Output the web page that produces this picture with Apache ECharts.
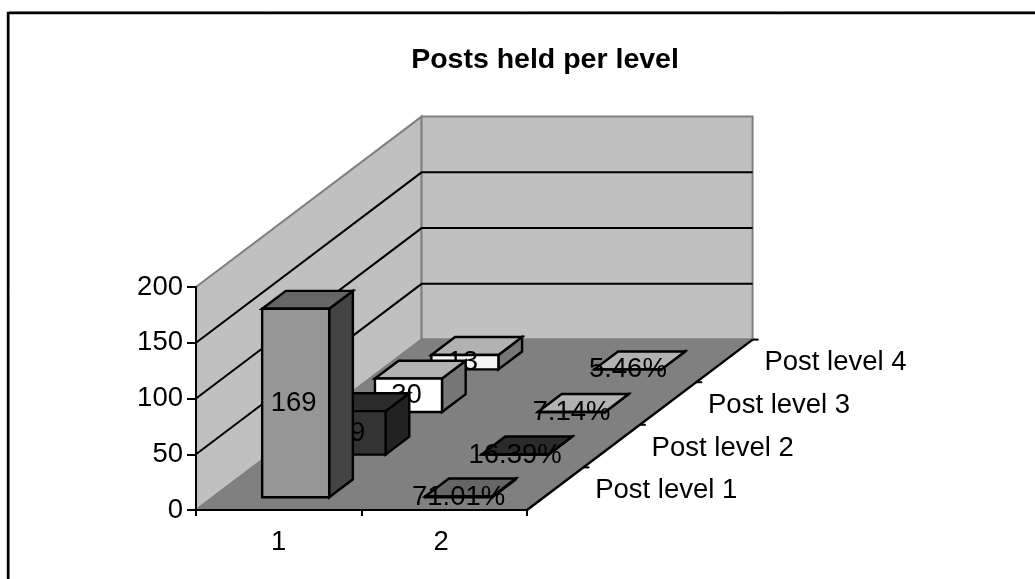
<!DOCTYPE html>
<html>
<head>
<meta charset="utf-8">
<style>
  html, body { margin: 0; background: #fff; }
  #chart { width: 1035px; height: 579px; }
</style>
<script src="https://cdn.jsdelivr.net/npm/echarts@6/dist/echarts.min.js"></script>
</head>
<body>
<div id="chart"></div>
<script>
const categories = ['1', '2'];
const levels = ['Post level 1', 'Post level 2', 'Post level 3', 'Post level 4'];
const counts = [169, 39, 30, 13];
const shares = [71.01, 16.39, 7.14, 5.46];
const yTicks = [0, 50, 100, 150, 200];

// oblique projection: how far one level moves back on screen
const stepX = 56.4;
const stepY = -42.6;
const font = 'Liberation Sans, Arial, sans-serif';
const labelSize = 27.5;

// front, top, side colours per level
const shades = [
  ['#969696', '#666666', '#444444'],
  ['#333333', '#2b2b2b', '#222222'],
  ['#ffffff', '#b2b2b2', '#777777'],
  ['#f4f4f4', '#b2b2b2', '#777777']
];

const edge = { stroke: '#000', lineWidth: 2.4, lineJoin: 'miter' };

function poly(points, fill, stroke) {
  return {
    type: 'polygon',
    shape: { points: points },
    style: stroke ? Object.assign({ fill: fill }, edge) : { fill: fill, stroke: '#808080', lineWidth: 2 }
  };
}

function back(p, d) {
  return [p[0] + stepX * d, p[1] + stepY * d];
}

// side wall, back wall, floor and their gridlines
function renderFrame(params, api) {
  const w = api.size([1, 0])[0];
  const x0 = api.coord([0, 0])[0] - w / 2;
  const x1 = x0 + w * categories.length;
  const y0 = api.coord([0, 0])[1];
  const yTop = api.coord([0, yTicks[yTicks.length - 1]])[1];
  const d = levels.length;
  const kids = [
    poly([[x0, y0], [x0, yTop], back([x0, yTop], d), back([x0, y0], d)], '#c0c0c0'),
    poly([back([x0, y0], d), back([x0, yTop], d), back([x1, yTop], d), back([x1, y0], d)], '#c0c0c0'),
    poly([[x0, y0], [x1, y0], back([x1, y0], d), back([x0, y0], d)], '#808080')
  ];
  yTicks.slice(1, -1).forEach(function (t) {
    const y = api.coord([0, t])[1];
    kids.push({
      type: 'polyline',
      shape: { points: [[x0, y], back([x0, y], d), back([x1, y], d)] },
      style: { fill: 'none', stroke: '#000', lineWidth: 2 }
    });
  });
  kids.push({
    type: 'line',
    shape: { x1: x1, y1: y0, x2: back([x1, y0], d)[0], y2: back([x1, y0], d)[1] },
    style: { stroke: '#000', lineWidth: 2.4 }
  });
  for (let i = 1; i <= d; i++) {
    const p = back([x1, y0], i);
    kids.push({
      type: 'line',
      shape: { x1: p[0], y1: p[1], x2: p[0] + 6, y2: p[1] },
      style: { stroke: '#000', lineWidth: 2 }
    });
  }
  levels.forEach(function (name, i) {
    const p = back([x1, y0], i + 0.5);
    kids.push({
      type: 'text',
      style: { x: p[0] + 40, y: p[1] + 2, text: name, fill: '#000', font: labelSize + 'px ' + font, verticalAlign: 'middle' }
    });
  });
  return { type: 'group', children: kids };
}

// one box of the 3D bar series
function renderBox(params, api) {
  const cat = api.value(0);
  const level = api.value(1);
  const val = api.value(2);
  const w = api.size([1, 0])[0];
  const barW = w * 0.405;
  const base = api.coord([cat, 0]);
  const top = api.coord([cat, val]);
  const gap = 0.3;
  const depth = 0.42;
  // the second group sits a little left of its band in the original
  const nudge = cat === 1 ? -2.5 : 0;
  const left = base[0] - barW / 2 + nudge;
  const right = base[0] + barW / 2 + nudge;
  const fb = back([left, base[1]], level + gap);
  const fr = back([right, base[1]], level + gap);
  const ft = back([left, top[1]], level + gap);
  const frt = back([right, top[1]], level + gap);
  const bt = back(ft, depth);
  const brt = back(frt, depth);
  const brb = back(fr, depth);
  const c = shades[level];
  const text = cat === 0 ? String(val) : shares[level].toFixed(2) + '%';
  return {
    type: 'group',
    children: [
      poly([frt, brt, brb, fr], c[2], true),
      poly([ft, bt, brt, frt], c[1], true),
      poly([ft, frt, fr, fb], c[0], true),
      {
        type: 'text',
        style: {
          x: (left + right) / 2 + stepX * (level + gap) + (cat === 0 ? -2 : 0),
          y: (ft[1] + fb[1]) / 2 + 0.5,
          text: text,
          fill: '#000',
          font: labelSize + 'px ' + font,
          align: 'center',
          verticalAlign: 'middle'
        }
      }
    ]
  };
}

// drawn back to front so the nearer boxes cover the later ones
const boxData = [];
for (let l = levels.length - 1; l >= 0; l--) {
  boxData.push([1, l, shares[l] / 100]);
  boxData.push([0, l, counts[l]]);
}

const chart = echarts.init(document.getElementById('chart'));
chart.setOption({
  animation: false,
  backgroundColor: '#fff',
  textStyle: { fontFamily: font },
  title: {
    text: 'Posts held per level',
    left: 540,
    top: 41,
    textAlign: 'center',
    textStyle: { fontSize: 28.5, fontWeight: 'bold', color: '#000', fontFamily: font }
  },
  graphic: [
    { type: 'polyline', silent: true, z: -1, shape: { points: [[9.5, 579], [9.5, 11.5], [1035, 11.5]] },
      style: { fill: 'none', stroke: '#999', lineWidth: 1 } },
    { type: 'polyline', silent: true, z: -1, shape: { points: [[8, 579], [8, 13], [1035, 13]] },
      style: { fill: 'none', stroke: '#000', lineWidth: 2.4 } }
  ],
  grid: { left: 196, top: 287, width: 331, height: 223 },
  xAxis: {
    type: 'category',
    data: categories,
    z: 5,
    axisLine: { lineStyle: { color: '#000', width: 2 } },
    axisTick: { show: true, alignWithLabel: false, length: 6, lineStyle: { color: '#000', width: 2 } },
    axisLabel: {
      color: '#000',
      fontSize: labelSize,
      margin: 18,
      fontFamily: font,
      formatter: function (v) { return v === '2' ? '{shift|' + v + '}' : v; },
      rich: { shift: { fontSize: labelSize, fontFamily: font, color: '#000', padding: [0, 6, 0, 0] } }
    }
  },
  yAxis: {
    type: 'value',
    min: 0,
    max: 200,
    interval: 50,
    z: 5,
    splitLine: { show: false },
    axisLine: { show: true, lineStyle: { color: '#000', width: 2 } },
    axisTick: { show: true, length: 9, lineStyle: { color: '#000', width: 2 } },
    axisLabel: { color: '#000', fontSize: labelSize, margin: 13, fontFamily: font, padding: [3, 0, 0, 0] }
  },
  series: [
    {
      type: 'custom',
      silent: true,
      clip: false,
      renderItem: renderFrame,
      data: [[0, 0]],
      encode: { x: 0, y: 1 },
      z: 1
    },
    {
      type: 'custom',
      silent: true,
      clip: false,
      renderItem: renderBox,
      data: boxData,
      encode: { x: 0, y: 2 },
      z: 2
    }
  ]
});
window.addEventListener('resize', function () {
  chart.resize();
});
</script>
</body>
</html>
